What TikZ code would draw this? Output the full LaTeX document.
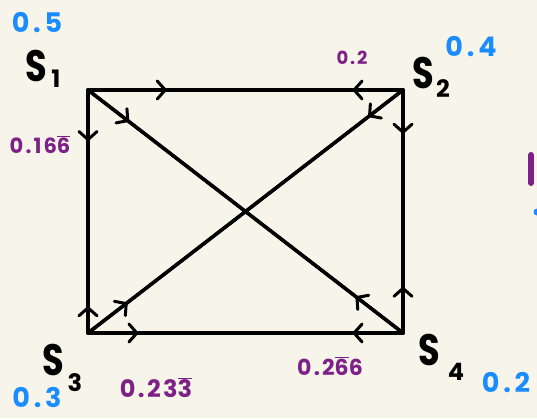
\documentclass[tikz,border=0pt]{standalone}
\usepackage{fontspec}
\setmainfont{Poppins}
\usetikzlibrary{arrows.meta,decorations.markings}
\definecolor{bg}{HTML}{F7F5EA}
\definecolor{blu}{HTML}{1A8CFF}
\definecolor{pur}{HTML}{7E2187}
\begin{document}
\begin{tikzpicture}[x=1pt,y=-1pt,
  edge/.style={line width=3.4pt,line cap=round,line join=round},
  mk/.style={postaction={decorate},decoration={markings,
     mark=at position #1 with {\arrow{Straight Barb[length=8pt,width=18pt,line width=3pt,round]}}}},
  slab/.style={font=\fontseries{sb}\fontsize{44}{44}\selectfont,inner sep=0pt,xscale=0.8},
  sub/.style={font=\fontseries{sb}\fontsize{24}{24}\selectfont,inner sep=0pt},
  bnum/.style={text=blu,font=\bfseries\fontsize{27}{27}\selectfont\addfontfeatures{LetterSpace=14},inner sep=0pt},
  pnum/.style={text=pur,font=\bfseries\fontsize{#1}{#1}\selectfont\addfontfeatures{LetterSpace=10},inner sep=0pt},
  pnum/.default=19]
\fill[bg] (0,0) rectangle (537,418);
\useasboundingbox (0,0) rectangle (537,418);
\coordinate (S1) at (88,90);
\coordinate (S2) at (403,90);
\coordinate (S3) at (88,333);
\coordinate (S4) at (403,333);
% edges
\draw[edge,mk=0.25] (S1) -- (S2);
\draw[edge,mk=0.16] (S2) -- (S1);
\draw[edge,mk=0.21] (S1) -- (S3);
\draw[edge,mk=0.11] (S3) -- (S1);
\draw[edge,mk=0.16] (S3) -- (S4);
\draw[edge,mk=0.16] (S4) -- (S3);
\draw[edge,mk=0.18] (S2) -- (S4);
\draw[edge,mk=0.19] (S4) -- (S2);
\draw[edge,mk=0.13] (S1) -- (S4);
\draw[edge,mk=0.15] (S4) -- (S1);
\draw[edge,mk=0.11] (S2) -- (S3);
\draw[edge,mk=0.125] (S3) -- (S2);
% state labels
\node[slab] (l1) at (36,66) {S};
\node[sub] (l1s) at (56,79) {1};
\node[slab] (l2) at (423,73) {S};
\node[sub] (l2s) at (443,89) {2};
\node[slab] (l3) at (53,360) {S};
\node[sub] (l3s) at (75,383) {3};
\node[slab] (l4) at (429,350) {S};
\node[sub] (l4s) at (456,372) {4};
% blue numbers
\node[bnum] (b1) at (37,23) {0.5};
\node[bnum] (b2) at (471,47) {0.4};
\node[bnum] (b3) at (37,398) {0.3};
\node[bnum] (b4) at (506,383) {0.2};
% purple numbers
\node[pnum=18] (p1) at (352,58) {0.2};
\node[pnum=21] (p2) at (40,145) {0.16$\overline{\mbox{6}}$};
\node[pnum=24] (p3) at (156,388) {0.23$\overline{\mbox{3}}$};
\node[pnum=22] (p4) at (330,366) {0.2$\overline{\mbox{6}}$6};
% clipped fragments at right edge
\draw[pur,line width=6pt,line cap=round] (531,155) -- (531,183);
\fill[blu] (537,212) circle (3.5);
\end{tikzpicture}
\end{document}
